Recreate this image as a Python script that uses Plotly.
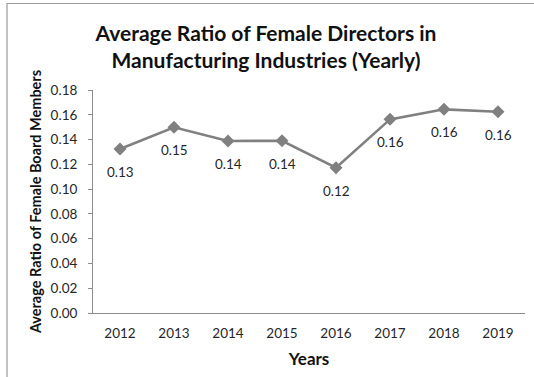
import plotly.graph_objects as go

years = ["2012", "2013", "2014", "2015", "2016", "2017", "2018", "2019"]
ratios = [0.1324, 0.1499, 0.1388, 0.1390, 0.1173, 0.1563, 0.1644, 0.1625]
y_ticks = [0.00, 0.02, 0.04, 0.06, 0.08, 0.10, 0.12, 0.14, 0.16, 0.18]

title_text = "Average Ratio of Female Directors in<br>Manufacturing Industries (Yearly)"
x_title = "Years"
y_title = "Average Ratio of Female Board Members"

FONT = "Lato"
W, H = 534, 377
L, R, T, B = 93, 9, 90, 64
pw, ph = W - L - R, H - T - B

fig = go.Figure()
fig.add_trace(go.Scatter(
    x=years, y=ratios, mode="lines+markers",
    line=dict(color="#808080", width=2.6),
    marker=dict(symbol="diamond", size=10, color="#808080"),
    hoverinfo="x+y", showlegend=False,
))

for i, v in enumerate(ratios):
    fig.add_annotation(x=i, y=v, xref="x", yref="y", text=f"{v:.2f}", showarrow=False,
                       yshift=-23, font=dict(family=FONT, size=13.5, color="#262626"))

# outer chart border (left and top visible)
fig.add_shape(type="rect", xref="paper", yref="paper",
              x0=(7 - L) / pw, x1=(540 - L) / pw,
              y0=(H - B - 380) / ph, y1=(H - B - 3.5) / ph,
              line=dict(color="#9a9a9a", width=1.2), fillcolor="rgba(0,0,0,0)", layer="below")

fig.update_layout(
    width=W, height=H,
    margin=dict(l=L, r=R, t=T, b=B),
    paper_bgcolor="white", plot_bgcolor="white",
    font=dict(family=FONT, color="#262626"),
    title=dict(text=f"<b>{title_text}</b>", x=266 / W, xanchor="center",
               y=1 - 41 / H, yanchor="middle",
               font=dict(family=FONT, size=21, color="#111111")),
)
fig.update_xaxes(
    type="category", showline=True, linecolor="#8c8c8c", linewidth=1,
    showgrid=False, ticks="", tickfont=dict(family=FONT, size=13.5, color="#262626"),
    ticklabelstandoff=8,
    title=dict(text=f"<b>{x_title}</b>", font=dict(family=FONT, size=17, color="#111111"), standoff=12),
    range=[-0.5, len(years) - 0.5], fixedrange=True,
)
fig.update_yaxes(
    range=[0, 0.18], tickvals=y_ticks, tickformat=".2f",
    showline=True, linecolor="#8c8c8c", linewidth=1,
    ticks="outside", ticklen=4, tickcolor="#8c8c8c",
    showgrid=False, zeroline=False, ticklabelstandoff=8,
    tickfont=dict(family=FONT, size=13.5, color="#262626"),
    title=dict(text=f"<b>{y_title}</b>", font=dict(family=FONT, size=14.5, color="#111111"), standoff=5),
    fixedrange=True,
)

fig.write_html("out.html")
